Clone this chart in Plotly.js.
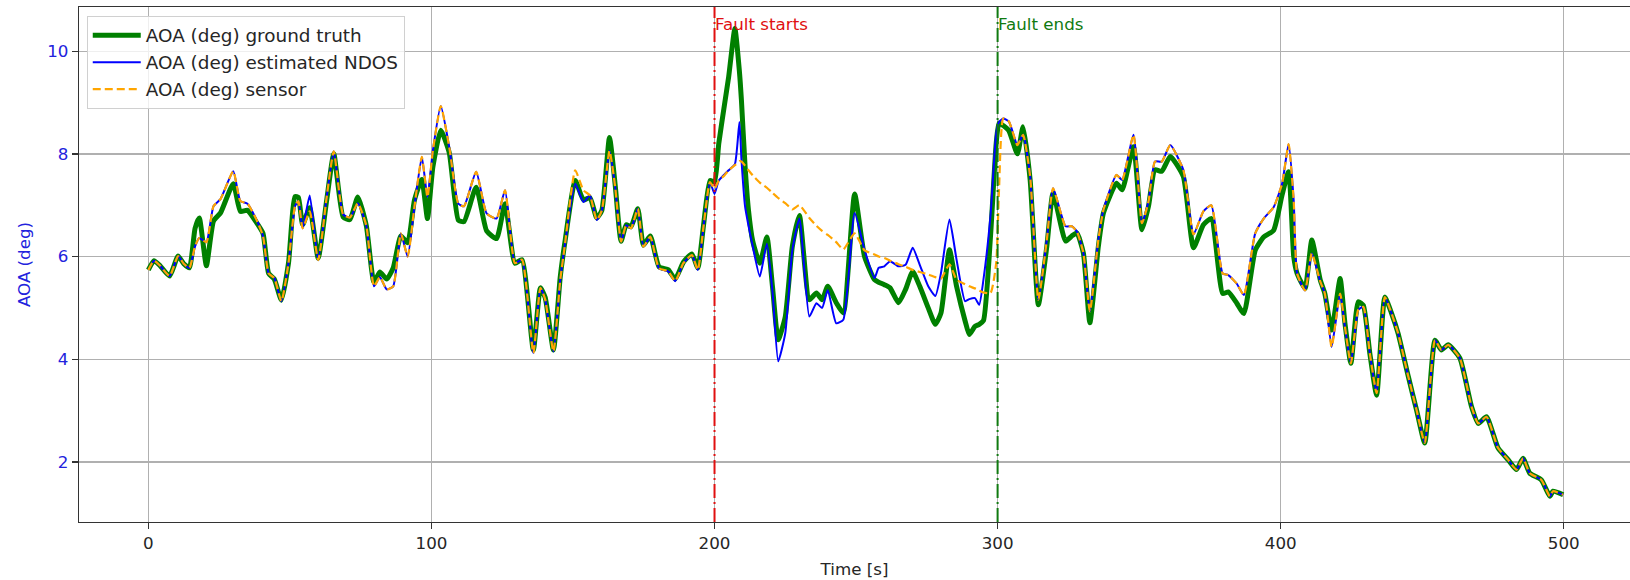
<!DOCTYPE html>
<html>
<head>
<meta charset="utf-8">
<script src="https://cdn.plot.ly/plotly-3.0.1.min.js"></script>
<style>html,body{margin:0;padding:0;background:#fff;}#chart{width:1630px;height:580px;}</style>
</head>
<body>
<div id="chart"></div>
<script>
// Time samples [s]
const timeSec = [
  0, 2, 4, 7.5, 10.5, 12.5, 14.5, 16.5, 18, 20.5,
  23, 25.5, 30, 32.5, 35, 38, 40.5, 42.5, 44.5, 47,
  49.5, 51.8, 53, 54.5, 57, 60, 63, 65.5, 68.8, 71.2,
  74, 77, 79.7, 81.8, 84.2, 86.5, 89.2, 91.6, 94, 96.6,
  98.6, 100.5, 103.3, 106.3, 109.5, 111.5, 115.8, 119.5, 123, 126,
  129.5, 132, 136, 138.5, 140.2, 143.1, 145.5, 147.2, 150.8, 153.7,
  156, 158.4, 160.2, 162.9, 164.9, 167, 168.8, 170.5, 172.9, 174.9,
  177.3, 180.4, 183.7, 186.1, 189, 192, 194.1, 196.1, 198.4, 200,
  201.5, 203.5, 205, 207.2, 208.8, 209.5, 210.8, 212, 213.5, 216,
  218.5, 220.5, 222.5, 225, 227.5, 230, 233.5, 236, 238, 240,
  243, 245.5, 249.5, 253, 256.5, 258, 260, 262, 265, 267.5,
  270, 272.5, 275.5, 278, 280, 283, 285.5, 288.5, 290, 292,
  293.5, 295, 297.5, 299.5, 300.5, 302, 304, 307, 309, 311.5,
  314.4, 317.4, 319.6, 324, 326.2, 328, 330.3, 332.6, 335.6, 337.4,
  342, 344, 348, 351, 353.3, 355.6, 358, 361, 365.6, 369.2,
  372.7, 375.5, 379.5, 381.5, 384.5, 387, 391, 394, 397.5, 400.5,
  402.8, 404.6, 405.8, 408.6, 411, 414, 415.6, 418, 421, 422.7,
  424.8, 427.4, 429.2, 431.5, 433.9, 436.8, 439.2, 441.5, 445.1, 448,
  450.9, 454.5, 456.8, 459.2, 463.3, 467.4, 469.8, 472.7, 476.8, 480.4,
  483.3, 485.6, 488, 492.1, 495.1, 496.2, 499.8
];

// AOA (deg) ground truth
const truthDeg = [
  5.74, 5.92, 5.83, 5.62, 6.01, 5.86, 5.78, 6.55, 6.75, 5.82,
  6.69, 6.85, 7.42, 6.88, 6.90, 6.68, 6.45, 5.67, 5.56, 5.15,
  5.87, 7.17, 7.15, 6.62, 6.95, 5.97, 7.10, 8.00, 6.77, 6.72,
  7.16, 6.60, 5.50, 5.70, 5.56, 5.78, 6.40, 6.27, 7.10, 7.50,
  6.74, 7.74, 8.46, 8.02, 6.71, 6.68, 7.35, 6.50, 6.35, 7.03,
  5.87, 5.94, 4.18, 5.39, 5.20, 4.18, 5.60, 6.30, 7.48, 7.10,
  7.15, 6.75, 6.90, 8.32, 7.40, 6.30, 6.62, 6.58, 6.93, 6.22,
  6.40, 5.80, 5.74, 5.56, 5.89, 6.05, 5.78, 6.60, 7.48, 7.45,
  8.20, 8.95, 9.50, 10.44, 9.60, 9.05, 7.75, 6.90, 6.30, 5.87,
  6.38, 5.40, 4.38, 4.83, 6.20, 6.80, 5.16, 5.29, 5.16, 5.42,
  5.10, 4.90, 7.22, 6.00, 5.55, 5.50, 5.45, 5.39, 5.10, 5.36,
  5.71, 5.42, 5.00, 4.68, 4.90, 6.13, 5.42, 4.75, 4.48, 4.64,
  4.68, 4.75, 6.40, 8.20, 8.60, 8.55, 8.45, 8.00, 8.53, 7.49,
  5.06, 6.20, 7.24, 6.30, 6.40, 6.46, 6.07, 4.71, 6.20, 6.85,
  7.43, 7.30, 8.14, 6.52, 6.98, 7.69, 7.66, 7.95, 7.56, 6.17,
  6.62, 6.74, 5.28, 5.31, 5.09, 4.89, 6.12, 6.38, 6.51, 7.20,
  7.65, 6.00, 5.67, 5.38, 6.32, 5.54, 5.28, 4.57, 5.57, 4.70,
  3.92, 5.12, 5.05, 4.11, 3.30, 5.21, 4.89, 4.50, 3.66, 3.01,
  2.37, 4.37, 4.18, 4.28, 4.02, 3.08, 2.75, 2.88, 2.27, 2.04,
  1.85, 2.07, 1.78, 1.65, 1.33, 1.43, 1.36
];

// AOA (deg) estimated NDOS
const estimatedDeg = [
  5.74, 5.92, 5.83, 5.62, 6.01, 5.86, 5.78, 6.20, 6.36, 6.28,
  6.98, 7.12, 7.66, 7.08, 7.03, 6.74, 6.40, 5.67, 5.58, 5.13,
  5.87, 6.98, 7.08, 6.55, 7.19, 5.93, 7.16, 8.05, 6.82, 6.76,
  7.04, 6.60, 5.42, 5.60, 5.36, 5.42, 6.45, 6.00, 6.97, 7.94,
  7.16, 8.06, 8.93, 8.13, 7.03, 6.98, 7.65, 6.84, 6.74, 7.29,
  5.87, 5.94, 4.12, 5.39, 5.16, 4.15, 5.54, 6.25, 7.42, 7.06,
  7.19, 6.71, 6.90, 8.06, 7.36, 6.29, 6.61, 6.55, 6.93, 6.19,
  6.39, 5.77, 5.71, 5.52, 5.87, 6.03, 5.74, 6.58, 7.45, 7.22,
  7.48, 7.60, 7.68, 7.80, 8.62, 7.90, 6.97, 6.60, 6.20, 5.61,
  6.25, 5.30, 3.96, 4.51, 6.13, 6.74, 4.83, 5.09, 5.00, 5.35,
  4.70, 4.77, 6.85, 6.13, 5.58, 5.78, 5.81, 5.91, 5.81, 5.84,
  6.17, 5.84, 5.42, 5.23, 5.68, 6.72, 5.94, 5.13, 5.17, 5.19,
  5.06, 5.55, 6.80, 8.40, 8.62, 8.69, 8.63, 8.17, 8.37, 7.56,
  5.16, 6.33, 7.33, 6.59, 6.59, 6.49, 6.07, 4.93, 6.33, 6.91,
  7.59, 7.49, 8.37, 6.65, 7.07, 7.85, 7.85, 8.17, 7.69, 6.43,
  6.88, 7.00, 5.67, 5.64, 5.47, 5.25, 6.45, 6.74, 6.96, 7.42,
  8.19, 7.09, 5.67, 5.34, 6.06, 5.51, 5.28, 4.24, 5.28, 4.63,
  3.92, 4.96, 5.02, 4.11, 3.34, 5.21, 4.89, 4.50, 3.66, 3.01,
  2.37, 4.37, 4.18, 4.28, 4.02, 3.08, 2.75, 2.88, 2.27, 2.04,
  1.85, 2.07, 1.78, 1.65, 1.33, 1.43, 1.36
];

// AOA (deg) sensor
const sensorDeg = [
  5.74, 5.92, 5.83, 5.62, 6.01, 5.86, 5.78, 6.20, 6.36, 6.28,
  6.98, 7.12, 7.66, 7.08, 7.03, 6.74, 6.40, 5.67, 5.58, 5.13,
  5.87, 6.98, 7.08, 6.55, 6.88, 5.93, 7.16, 8.05, 6.82, 6.76,
  7.04, 6.60, 5.42, 5.60, 5.36, 5.42, 6.45, 6.00, 6.97, 7.94,
  7.16, 8.06, 8.93, 8.13, 7.03, 6.98, 7.65, 6.84, 6.74, 7.29,
  5.87, 5.94, 4.12, 5.39, 5.16, 4.15, 5.54, 6.25, 7.68, 7.29,
  7.19, 6.71, 6.90, 8.06, 7.36, 6.29, 6.61, 6.55, 6.93, 6.19,
  6.39, 5.77, 5.71, 5.52, 5.87, 6.03, 5.74, 6.58, 7.45, 7.32,
  7.48, 7.58, 7.68, 7.78, 7.86, 7.85, 7.77, 7.68, 7.58, 7.44,
  7.34, 7.24, 7.14, 7.04, 6.92, 7.00, 6.75, 6.60, 6.50, 6.42,
  6.28, 6.14, 6.45, 6.12, 6.04, 6.00, 5.97, 5.92, 5.85, 5.80,
  5.74, 5.70, 5.65, 5.60, 5.57, 5.85, 5.55, 5.46, 5.42, 5.38,
  5.34, 5.30, 5.29, 5.87, 7.30, 8.69, 8.63, 8.17, 8.37, 7.56,
  5.16, 6.33, 7.33, 6.59, 6.59, 6.49, 6.07, 4.93, 6.33, 6.91,
  7.59, 7.49, 8.37, 6.65, 7.07, 7.85, 7.85, 8.17, 7.69, 6.43,
  6.88, 7.00, 5.67, 5.64, 5.47, 5.25, 6.45, 6.74, 6.96, 7.42,
  8.19, 7.09, 5.67, 5.34, 6.06, 5.51, 5.28, 4.24, 5.28, 4.63,
  3.92, 4.96, 5.02, 4.11, 3.34, 5.21, 4.89, 4.50, 3.66, 3.01,
  2.37, 4.37, 4.18, 4.28, 4.02, 3.08, 2.75, 2.88, 2.27, 2.04,
  1.85, 2.07, 1.78, 1.65, 1.33, 1.43, 1.36
];

const seriesNames = ['AOA (deg) ground truth', 'AOA (deg) estimated NDOS', 'AOA (deg) sensor'];
const faultStart = 200;
const faultEnd = 300;
const faultLabels = ['Fault starts', 'Fault ends'];
const xTickStep = 100;
const yTickStep = 2;

const FONT = 'DejaVu Sans, Liberation Sans, sans-serif';
const FS = 16.7;
const LFS = 18.4;

const traces = [
  {x: timeSec, y: truthDeg, name: seriesNames[0], type: 'scatter', mode: 'lines',
   line: {color: '#008000', width: 5, shape: 'spline', smoothing: 0.5}, legendgroup: 'a'},
  {x: timeSec, y: estimatedDeg, name: seriesNames[1], type: 'scatter', mode: 'lines',
   line: {color: '#0000ff', width: 2, shape: 'spline', smoothing: 0.5}, legendgroup: 'b'},
  {x: timeSec, y: sensorDeg, name: seriesNames[2], type: 'scatter', mode: 'lines',
   line: {color: '#ffa500', width: 2.2, dash: '8px,4px', shape: 'spline', smoothing: 0.5}, legendgroup: 'c'}
];

const layout = {
  width: 1630, height: 580,
  margin: {l: 79, r: 0, t: 7, b: 58, pad: 0},
  paper_bgcolor: '#ffffff', plot_bgcolor: '#ffffff',
  font: {family: FONT, size: FS, color: '#262626'},
  showlegend: true,
  legend: {
    x: 0.005, y: 0.983, xanchor: 'left', yanchor: 'top',
    bgcolor: 'rgba(255,255,255,0.8)', bordercolor: '#d0d0d0', borderwidth: 1,
    font: {family: FONT, size: LFS, color: '#262626'},
    traceorder: 'grouped', tracegroupgap: 0, itemwidth: 48
  },
  xaxis: {
    range: [-24.5, 523.4], tick0: 0, dtick: xTickStep,
    showgrid: true, gridcolor: '#b0b0b0', gridwidth: 1.3,
    zeroline: false, showline: true, linecolor: '#333333', linewidth: 1.3, mirror: true,
    ticks: 'outside', ticklen: 6, tickwidth: 1.3, tickcolor: '#333333',
    tickfont: {family: FONT, size: FS, color: '#262626'},
    title: {text: 'Time [s]', font: {family: FONT, size: FS, color: '#262626'}, standoff: 11},
    automargin: false
  },
  yaxis: {
    range: [0.83, 10.86], tick0: 0, dtick: yTickStep,
    showgrid: true, gridcolor: '#b0b0b0', gridwidth: 1.3,
    zeroline: false, showline: true, linecolor: '#333333', linewidth: 1.3, mirror: false,
    ticks: 'outside', ticklen: 6, tickwidth: 1.3, tickcolor: '#333333',
    tickfont: {family: FONT, size: FS, color: '#2222dd'},
    title: {text: 'AOA (deg)', font: {family: FONT, size: FS, color: '#2222dd'}, standoff: 12},
    automargin: false
  },
  shapes: [
    {type: 'line', xref: 'x', yref: 'paper', x0: faultStart, x1: faultStart, y0: 0, y1: 1,
     line: {color: '#e01010', width: 2, dash: '14px,4px,2px,4px'}},
    {type: 'line', xref: 'x', yref: 'paper', x0: faultEnd, x1: faultEnd, y0: 0, y1: 1,
     line: {color: '#107a10', width: 2, dash: '14px,4px,2px,4px'}}
  ],
  annotations: [
    {x: faultStart, y: 10.52, xref: 'x', yref: 'y', text: faultLabels[0], showarrow: false,
     xanchor: 'left', yanchor: 'middle', xshift: -2, font: {family: FONT, size: FS, color: '#e01010'}},
    {x: faultEnd, y: 10.52, xref: 'x', yref: 'y', text: faultLabels[1], showarrow: false,
     xanchor: 'left', yanchor: 'middle', xshift: -2, font: {family: FONT, size: FS, color: '#107a10'}}
  ]
};

Plotly.newPlot('chart', traces, layout, {staticPlot: true, displayModeBar: false});
</script>
</body>
</html>
